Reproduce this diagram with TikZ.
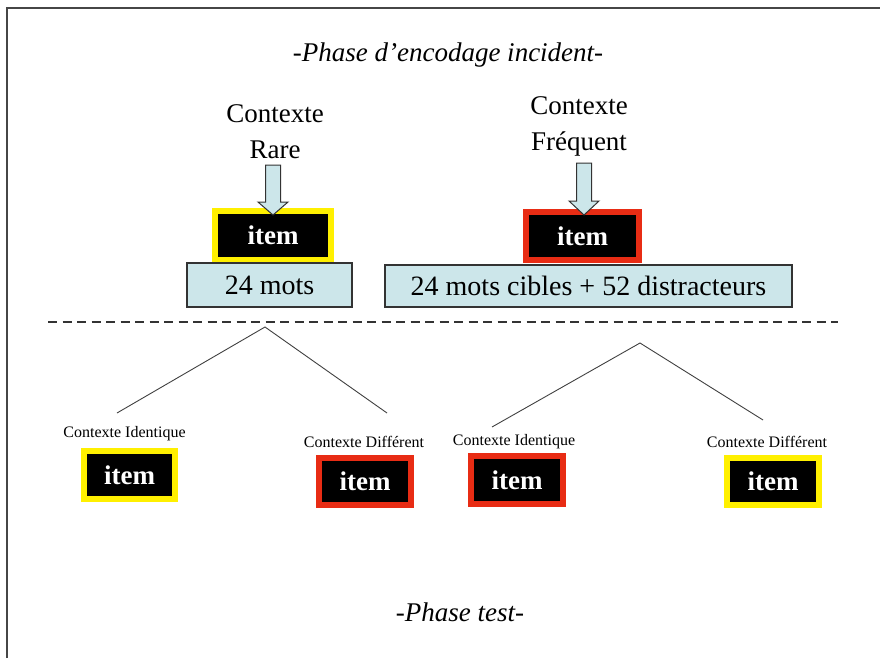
\documentclass[tikz,border=0pt]{standalone}
\usepackage{fontspec}
\setmainfont{Liberation Serif}
\definecolor{boxblue}{RGB}{204,230,234}
\definecolor{ctxred}{RGB}{232,44,20}
\definecolor{ctxyellow}{RGB}{255,240,0}
\definecolor{framegray}{RGB}{70,70,70}
\begin{document}
\begin{tikzpicture}[x=1pt,y=-1pt,
  itembox/.style={fill=black,text=white,line width=6pt,inner sep=0pt,
    font=\fontsize{27}{30}\selectfont\bfseries},
  countbox/.style={fill=boxblue,draw=black!80,line width=1.2pt,inner sep=0pt,
    font=\fontsize{28}{32}\selectfont},
  ctxlabel/.style={font=\fontsize{27}{36}\selectfont,align=center,inner sep=0pt},
  smalllabel/.style={font=\fontsize{16}{18}\selectfont,inner sep=0pt},
  phaselabel/.style={font=\fontsize{27}{30}\selectfont\itshape,inner sep=0pt},
  branch/.style={draw=black!75,line width=0.9pt},
  darrow/.style={fill=boxblue,draw=black!80,line width=1pt,line join=miter},
  separator/.style={draw=black!80,line width=1.8pt,dash pattern=on 9pt off 5.5pt}]

\useasboundingbox (0,0) rectangle (880,658);
\draw[framegray,line width=2pt] (7,658) -- (7,8) -- (880,8);

% titles
\node[phaselabel] (enc) at (448,55) {-Phase d’encodage incident-};
\node[phaselabel] (test) at (460,612) {-Phase test-};

% encoding contexts
\node[ctxlabel] (rare) at (275,132) {Contexte\\Rare};
\node[ctxlabel] (freq) at (579,126) {Contexte\\Fréquent};

\node[itembox,draw=ctxyellow,minimum width=116pt,minimum height=49pt] (irare) at (273,235.5) {item};
\node[itembox,draw=ctxred,minimum width=113pt,minimum height=48pt] (ifreq) at (582.5,236) {item};

\node[countbox,minimum width=165pt,minimum height=44pt] (crare) at (269.5,285) {24 mots};
\node[countbox,minimum width=407pt,minimum height=42pt] (cfreq) at (588.5,286) {24 mots cibles + 52 distracteurs};

% block arrows
\draw[darrow] (265.5,165) -- (265.5,202) -- (258,202) -- (273,215) -- (288,202) -- (280.5,202) -- (280.5,165) -- cycle;
\draw[darrow] (576.5,163) -- (576.5,201) -- (569,201) -- (584,215) -- (599,201) -- (591.5,201) -- (591.5,163) -- cycle;

% separator
\coordinate (sepl) at (48,322);
\coordinate (sepr) at (838,322);
\draw[separator] (sepl) -- (sepr);

% test branches
\coordinate (apexl) at (265,327);
\coordinate (legll) at (117,413);
\coordinate (leglr) at (387,413);
\coordinate (apexr) at (640,343);
\coordinate (legrl) at (492,427);
\coordinate (legrr) at (763,420);
\draw[branch] (legll) -- (apexl) -- (leglr);
\draw[branch] (legrl) -- (apexr) -- (legrr);

\node[smalllabel] (lid) at (124.5,434) {Contexte Identique};
\node[smalllabel] (ldiff) at (364,442) {Contexte Différent};
\node[smalllabel] (rid) at (514,442) {Contexte Identique};
\node[smalllabel] (rdiff) at (767,442) {Contexte Différent};

\node[itembox,draw=ctxyellow,minimum width=91pt,minimum height=48pt] (t1) at (129.5,475) {item};
\node[itembox,draw=ctxred,minimum width=92pt,minimum height=47pt] (t2) at (365,481.5) {item};
\node[itembox,draw=ctxred,minimum width=92pt,minimum height=48pt] (t3) at (517,480) {item};
\node[itembox,draw=ctxyellow,minimum width=92pt,minimum height=47pt] (t4) at (773,481.5) {item};
\end{tikzpicture}
\end{document}
